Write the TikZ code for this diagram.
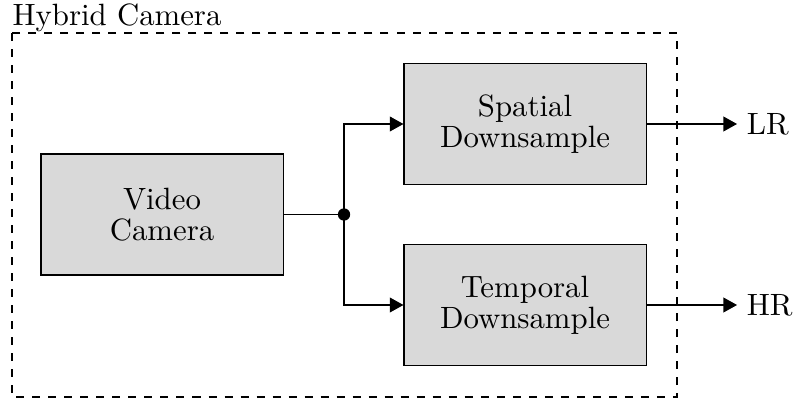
\documentclass[tikz,border=0pt]{standalone}
\usetikzlibrary{arrows.meta}
\begin{document}
\begin{tikzpicture}[x=0.3247pt,y=-0.3247pt, line width=0.35pt,
  blockbox/.style={draw, fill=gray!30, minimum width=78.6pt, minimum height=39.3pt,
    align=center, inner sep=0pt, font=\fontsize{10}{10}\selectfont},
  flow/.style={-{Triangle[length=4.4pt,width=4.8pt]}},
  outlabel/.style={anchor=west, inner sep=3pt},
  unitframe/.style={dash pattern=on 2.6pt off 2.6pt},
]
\useasboundingbox (0,0) rectangle (794,399);

% enclosing camera unit
\draw[unitframe] (12,33) rectangle (677,397);
\node[anchor=base west, inner sep=0pt] (title) at (12,26) {Hybrid Camera};

% processing blocks
\node[blockbox] (cam)  at (162,214.5) {Video\\Camera};
\node[blockbox] (spat) at (525,124)   {Spatial\\Downsample};
\node[blockbox] (temp) at (525,305)   {Temporal\\Downsample};

% split of the camera stream
\coordinate (split) at (344,214.5);
\draw (cam.east) -- (split);
\draw[flow] (split) |- (spat.west);
\draw[flow] (split) |- (temp.west);
\fill (split) circle (2pt);

% outputs
\node[outlabel] (lr) at (737,124) {LR};
\node[outlabel] (hr) at (737,305) {HR};
\draw[flow] (spat.east) -- (lr.west);
\draw[flow] (temp.east) -- (hr.west);
\end{tikzpicture}
\end{document}
